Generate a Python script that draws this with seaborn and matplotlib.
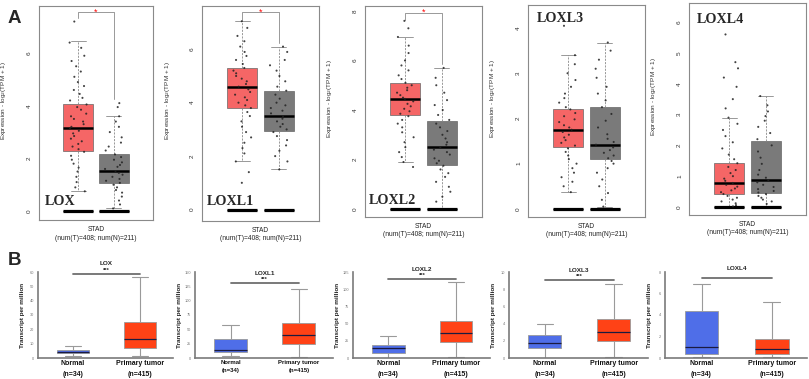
import numpy as np
import pandas as pd
import matplotlib
matplotlib.use("Agg")
import matplotlib.pyplot as plt
import seaborn as sns

# ---------------- data ----------------
genes = ["LOX", "LOXL1", "LOXL2", "LOXL3", "LOXL4"]

# Panel A (GEPIA, log2(TPM+1)); box = [lower whisker, Q1, median, Q3, upper whisker]
groups_a = ["Tumor", "Normal"]
tissue = "STAD"
a_xtick = "STAD\n(num(T)=408; num(N)=211)"
a_tumor_box = [
    [0.75, 2.30, 3.15, 4.05, 6.45],
    [1.80, 3.80, 4.60, 5.30, 7.05],
    [1.90, 3.80, 4.45, 5.10, 6.95],
    [0.37, 1.37, 1.75, 2.22, 3.40],
    [0.00, 0.42, 0.78, 1.42, 2.90],
]
a_normal_box = [
    [0.10, 1.07, 1.52, 2.15, 3.60],
    [1.50, 2.95, 3.50, 4.45, 6.10],
    [0.05, 1.78, 2.50, 3.57, 5.70],
    [0.05, 1.10, 1.42, 2.25, 3.68],
    [0.00, 0.47, 0.87, 2.13, 3.60],
]
a_zero = [0, 0, 0, 0, 0]
a_tumor_pts = [
    [7.2, 6.4, 6.2, 5.9, 5.7, 5.5, 5.3, 5.1, 4.9, 4.75, 4.6, 4.45, 4.3, 4.2, 4.05, 3.95, 3.85, 3.7, 3.6, 3.5,
     3.4, 3.3, 3.2, 3.15, 3.05, 2.95, 2.85, 2.75, 2.65, 2.55, 2.45, 2.35, 2.25, 2.1, 1.95, 1.8, 1.65, 1.5, 1.3,
     1.1, 0.9, 0.75],
    [7.05, 6.8, 6.5, 6.3, 6.1, 5.9, 5.75, 5.6, 5.45, 5.3, 5.2, 5.1, 5.0, 4.9, 4.8, 4.7, 4.6, 4.5, 4.4, 4.3,
     4.2, 4.1, 4.0, 3.9, 3.8, 3.65, 3.5, 3.3, 3.1, 2.9, 2.7, 2.5, 2.3, 2.1, 1.8, 1.4, 1.0],
    [7.6, 7.3, 6.95, 6.6, 6.3, 6.0, 5.8, 5.6, 5.4, 5.25, 5.1, 5.0, 4.9, 4.8, 4.7, 4.6, 4.5, 4.45, 4.35, 4.25,
     4.15, 4.05, 3.95, 3.85, 3.75, 3.6, 3.45, 3.3, 3.1, 2.9, 2.7, 2.5, 2.3, 2.1, 1.9, 1.7],
    [4.05, 3.4, 3.2, 3.0, 2.85, 2.7, 2.55, 2.45, 2.35, 2.25, 2.2, 2.12, 2.05, 1.98, 1.92, 1.85, 1.8, 1.75,
     1.7, 1.64, 1.58, 1.52, 1.46, 1.4, 1.34, 1.26, 1.18, 1.1, 1.0, 0.9, 0.8, 0.7, 0.6, 0.5, 0.37],
    [5.6, 4.7, 4.5, 4.2, 3.9, 3.5, 3.2, 2.9, 2.7, 2.5, 2.3, 2.1, 1.9, 1.7, 1.55, 1.42, 1.3, 1.2, 1.1, 1.0,
     0.92, 0.85, 0.78, 0.72, 0.66, 0.6, 0.54, 0.48, 0.42, 0.36, 0.3, 0.24, 0.18, 0.12, 0.06, 0.02],
]
a_normal_pts = [
    [4.1, 3.95, 3.6, 3.4, 3.2, 3.0, 2.8, 2.6, 2.45, 2.3, 2.15, 2.05, 1.95, 1.85, 1.75, 1.68, 1.6, 1.52, 1.45,
     1.38, 1.3, 1.22, 1.15, 1.07, 1.0, 0.9, 0.8, 0.7, 0.55, 0.4, 0.25, 0.1],
    [6.1, 5.9, 5.6, 5.4, 5.2, 5.0, 4.8, 4.6, 4.45, 4.3, 4.15, 4.0, 3.9, 3.8, 3.7, 3.6, 3.5, 3.4, 3.3, 3.2,
     3.1, 3.0, 2.9, 2.75, 2.6, 2.4, 2.2, 2.0, 1.8, 1.5],
    [5.7, 5.3, 5.0, 4.7, 4.4, 4.2, 4.0, 3.8, 3.6, 3.45, 3.3, 3.15, 3.0, 2.85, 2.7, 2.6, 2.5, 2.4, 2.3, 2.2,
     2.05, 1.95, 1.85, 1.75, 1.6, 1.45, 1.3, 1.1, 0.9, 0.7, 0.5, 0.3],
    [3.68, 3.5, 3.3, 3.1, 2.9, 2.7, 2.55, 2.4, 2.25, 2.1, 1.95, 1.8, 1.65, 1.55, 1.48, 1.42, 1.36, 1.3, 1.24,
     1.18, 1.12, 1.06, 1.0, 0.9, 0.8, 0.65, 0.5, 0.35, 0.2, 0.05],
    [3.6, 3.3, 3.1, 2.95, 2.8, 2.6, 2.4, 2.2, 2.0, 1.8, 1.6, 1.4, 1.2, 1.05, 0.95, 0.87, 0.8, 0.72, 0.65,
     0.58, 0.52, 0.47, 0.42, 0.36, 0.3, 0.24, 0.18, 0.1],
]
a_yticks = [[0, 2, 4, 6], [0, 2, 4, 6], [0, 2, 4, 6, 8], [0, 1, 2, 3, 4], [0, 1, 2, 3, 4, 5, 6]]
a_ylims = [(-0.34, 7.79), (-0.43, 7.62), (-0.32, 8.2), (-0.18, 4.51), (-0.26, 6.62)]
a_sig = ["*", "*", "*", "", ""]
a_bracket_top = [7.56, 7.40, 7.93, None, None]
a_bracket_left = [7.35, 7.10, 7.65, None, None]
a_bracket_right = [4.25, 6.25, 5.85, None, None]

# Panel B (UALCAN, transcripts per million)
groups_b = ["Normal", "Primary tumor"]
b_counts = ["(n=34)", "(n=415)"]
b_normal_box = [
    [1.2, 3.5, 4.4, 5.6, 8.1],
    [4.0, 9.9, 14.5, 33.7, 57.0],
    [0.5, 7.8, 14.5, 19.4, 32.0],
    [0.05, 1.2, 1.78, 2.64, 3.9],
    [0.09, 0.34, 0.99, 4.34, 6.88],
]
b_tumor_box = [
    [1.6, 6.7, 13.5, 25.0, 56.5],
    [2.3, 23.8, 39.5, 61.6, 120.0],
    [1.0, 23.0, 37.0, 54.0, 110.0],
    [0.1, 2.0, 3.06, 4.57, 8.6],
    [0.06, 0.37, 0.87, 1.8, 5.24],
]
b_ytop = [60, 150, 125, 10, 8]
b_ystep = [10, 25, 25, 2, 2]
b_sig_y = [58.8, 131, 115, 9.1, 7.44]
b_sig = ["***", "***", "***", "***", ""]

# ---------------- style ----------------
sns.set_theme(style="white")
plt.rcParams["font.family"] = ["Liberation Sans", "DejaVu Sans"]

W, H = 809, 379
fig = plt.figure(figsize=(W / 100, H / 100), dpi=100)
fig.patch.set_facecolor("white")


def px_axes(l, r, t, b):
    return fig.add_axes([l / W, 1 - b / H, (r - l) / W, (b - t) / H])


RED_A = "#F56666"
GRAY_A = "#7A7A7A"
BLUE_B = "#4F6EE8"
RED_B = "#FF4216"

a_pos = [(39, 153, 6, 220), (202, 319, 6, 221), (365, 482, 6, 217), (528, 645, 5, 217), (689, 806, 3, 215)]
a_label_pos = [(0.055, 0.07, "baseline"), (0.045, 0.074, "baseline"), (0.03, 0.062, "baseline"),
               (0.075, 0.967, "top"), (0.068, 0.953, "top")]

WIDTH_A = 0.8
GAP_A = 0.17
dodge = WIDTH_A / 4

for i, g in enumerate(genes):
    l, r, t, b = a_pos[i]
    ax = px_axes(l, r, t, b)
    box_df = pd.DataFrame({"tissue": tissue,
                           "group": np.repeat(groups_a, 5),
                           "value": a_tumor_box[i] + a_normal_box[i]})
    zero_df = pd.DataFrame({"tissue": tissue,
                            "group": np.repeat(groups_a, 5),
                            "value": a_zero + a_zero})
    pts_df = pd.DataFrame({"tissue": tissue,
                           "group": ["Tumor"] * len(a_tumor_pts[i]) + ["Normal"] * len(a_normal_pts[i]),
                           "value": a_tumor_pts[i] + a_normal_pts[i]})
    # zero baseline bars
    sns.boxplot(data=zero_df, x="tissue", y="value", hue="group", hue_order=groups_a,
                palette=["black", "black"], width=WIDTH_A, gap=GAP_A, whis=(0, 100),
                saturation=1, linecolor="black", linewidth=0.8,
                medianprops=dict(color="black", lw=2.3), legend=False, ax=ax)
    sns.boxplot(data=box_df, x="tissue", y="value", hue="group", hue_order=groups_a,
                palette=[RED_A, GRAY_A], width=WIDTH_A, gap=GAP_A, whis=(0, 100),
                saturation=1, linecolor="#666666", linewidth=0.5, showfliers=False,
                whiskerprops=dict(color="#888888", lw=0.6, ls=(0, (2.5, 1.5))),
                capprops=dict(color="#888888", lw=0.6),
                medianprops=dict(color="black", lw=1.8), legend=False, ax=ax)
    sns.stripplot(data=pts_df, x="tissue", y="value", hue="group", hue_order=groups_a,
                  palette=["#222222", "#222222"], dodge=True, jitter=0.2, size=1.5,
                  linewidth=0, alpha=0.85, legend=False, ax=ax)
    if a_sig[i]:
        ax.plot([-dodge, -dodge, dodge, dodge],
                [a_bracket_left[i], a_bracket_top[i], a_bracket_top[i], a_bracket_right[i]],
                color="#999999", lw=0.7, clip_on=False)
        ax.text(0, a_bracket_top[i], a_sig[i], color="red", ha="center", va="center",
                fontsize=6.5)
    ax.set_xlim(-0.64, 0.64)
    ax.set_ylim(*a_ylims[i])
    ax.set_yticks(a_yticks[i])
    ax.set_yticklabels([str(v) for v in a_yticks[i]], rotation=90, va="center",
                       fontsize=4.6, color="#333333")
    ax.set_xticks([0])
    ax.set_xticklabels([a_xtick], fontsize=4.8, color="#222222", linespacing=1.25)
    ax.tick_params(axis="both", length=3, width=0.5, color="#888888", pad=1.5)
    ax.tick_params(axis="y", pad=2)
    ax.set_xlabel("")
    ax.set_ylabel(r"Expression - log$_2$(TPM + 1)", fontsize=4.6, color="#333333")
    ax.yaxis.set_label_coords(-30.5 / (r - l), 0.56)
    for s in ax.spines.values():
        s.set_visible(True)
        s.set_color("#8A8A8A")
        s.set_linewidth(0.8)
    lx, ly, lva = a_label_pos[i]
    ax.text(lx, ly, g, transform=ax.transAxes, ha="left", va=lva,
            fontsize=10.2, fontweight="bold", family=["Liberation Serif", "DejaVu Serif"])

# ---------------- panel B ----------------
b_pos = [(38, 173, 272, 358), (195, 333, 272, 358), (353, 490, 272, 358),
         (509, 648, 272, 358), (665, 807, 272, 358)]
b_tick_fs = [5.0, 4.3, 5.0, 5.0, 5.0]

for i, g in enumerate(genes):
    l, r, t, b = b_pos[i]
    ax = px_axes(l, r, t, b)
    df = pd.DataFrame({"group": np.repeat(groups_b, 5),
                       "value": b_normal_box[i] + b_tumor_box[i]})
    sns.boxplot(data=df, x="group", y="value", hue="group", order=groups_b, hue_order=groups_b,
                palette=[BLUE_B, RED_B], width=0.48, whis=(0, 100), saturation=1,
                linecolor="#9A9A9A", linewidth=0.6, showfliers=False,
                whiskerprops=dict(color="#9A9A9A", lw=0.8),
                capprops=dict(color="#9A9A9A", lw=0.8),
                medianprops=dict(color="#1B1B40", lw=0.9), legend=False, ax=ax)
    ax.set_xlim(-0.52, 1.5)
    ax.set_ylim(0, b_ytop[i])
    ticks = list(range(0, b_ytop[i] + 1, b_ystep[i]))
    ax.set_yticks(ticks)
    ax.set_yticklabels([str(v) for v in ticks], fontsize=2.8, color="#777777")
    ax.tick_params(axis="y", length=1.8, width=0.5, color="#888888", pad=1)
    ax.set_xticks([0, 1])
    ax.set_xticklabels([f"{grp}\n{n}" for grp, n in zip(groups_b, b_counts)],
                       fontsize=b_tick_fs[i], fontweight="bold", linespacing=1.75, color="#111111")
    ax.tick_params(axis="x", length=0, pad=1.5)
    ax.set_xlabel("")
    ax.set_ylabel("Transcript per million", fontsize=4.6, fontweight="bold", color="#222222")
    ax.yaxis.set_label_coords(-13 / (r - l), 0.5)
    sns.despine(ax=ax)
    for s in ["left", "bottom"]:
        ax.spines[s].set_color("#7A7A7A")
        ax.spines[s].set_linewidth(1.2)
    ax.plot([0, 1], [b_sig_y[i], b_sig_y[i]], color="#6E6E6E", lw=1.3, clip_on=False)
    if b_sig[i]:
        ax.annotate(b_sig[i], xy=(0.5, b_sig_y[i]), xytext=(0, 2.2), textcoords="offset points",
                    ha="center", va="center", fontsize=4.2, fontweight="bold",
                    annotation_clip=False)
    ax.annotate(g, xy=(0.5, b_sig_y[i]), xytext=(0, 7.0), textcoords="offset points",
                ha="center", va="center", fontsize=4.6, fontweight="bold", annotation_clip=False)

fig.text(8 / W, 1 - 23 / H, "A", fontsize=13.5, fontweight="bold", va="baseline", ha="left")
fig.text(8 / W, 1 - 265 / H, "B", fontsize=13.5, fontweight="bold", va="baseline", ha="left")

fig.savefig("out.png", dpi=100, facecolor="white")
